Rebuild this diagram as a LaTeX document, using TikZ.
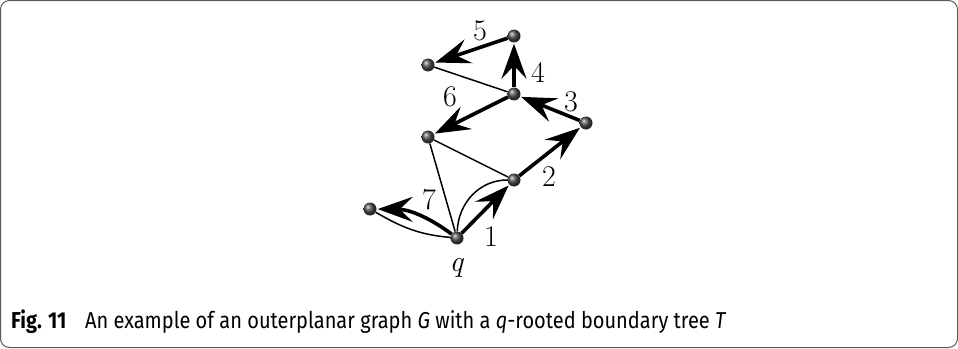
\documentclass[tikz,border=0pt]{standalone}
\usepackage{fontspec}
\newfontfamily\capfont[FakeStretch=0.87]{Fira Sans}
\usetikzlibrary{arrows.meta}

\begin{document}
\begin{tikzpicture}[x=1pt, y=-1pt, every node/.style={font=\fontsize{30}{34}\selectfont}, >={Stealth[length=35pt,width=25pt,inset=13pt]}]
	\tikzset{vtx/.style={circle, inner sep=0pt, minimum size=13pt, shading=ball, ball color=black!70},
		edge/.style={line width=1.5pt},
		tree/.style={line width=3.6pt, ->, shorten >=1pt}}
	\useasboundingbox (0,0) rectangle (958,348);
	\draw[black!65, line width=1pt, rounded corners=9pt] (0.5,0.5) rectangle (957.5,347.5);
	% vertices
	\node[vtx] (q) at (457,238) {};
	\node[vtx] (a) at (370,209) {};
	\node[vtx] (b) at (514,180) {};
	\node[vtx] (c) at (586,123) {};
	\node[vtx] (d) at (514,94) {};
	\node[vtx] (e) at (514,36) {};
	\node[vtx] (f) at (428,65) {};
	\node[vtx] (g) at (428,137) {};
	% edges of G not in T
	\draw[edge] (f) -- (d);
	\draw[edge] (g) -- (b);
	\draw[edge] (g) -- (q);
	\draw[edge] (a) to[out=-30, in=175] (q);
	\draw[edge] (q) to[out=88, in=180] (b);
	% boundary tree T
	\draw[tree] (q) -- (b);
	\draw[tree] (b) -- (c);
	\draw[tree] (c) -- (d);
	\draw[tree] (d) -- (e);
	\draw[tree] (e) -- (f);
	\draw[tree] (d) -- (g);
	\draw[tree] (q) to[bend right=18] (a);
	% labels
	\node (l1) at (491,237) {1};
	\node (l2) at (549,177) {2};
	\node (l3) at (571,102) {3};
	\node (l4) at (538,72) {4};
	\node (l5) at (480,31) {5};
	\node (l6) at (450,97) {6};
	\node (l7) at (429,200) {7};
	\node (lq) at (457,268) {\textit{q}};
	% caption
	\node[anchor=base west, inner sep=0pt, font=\capfont\fontsize{23}{26}\selectfont\bfseries] (fig) at (11,328) {Fig. 11};
	\node[anchor=base west, inner sep=0pt, font=\capfont\fontsize{23}{26}\selectfont] (cap) at (85,328) {An example of an outerplanar graph \textit{G} with a \textit{q}-rooted boundary tree \textit{T}};
\end{tikzpicture}
\end{document}
